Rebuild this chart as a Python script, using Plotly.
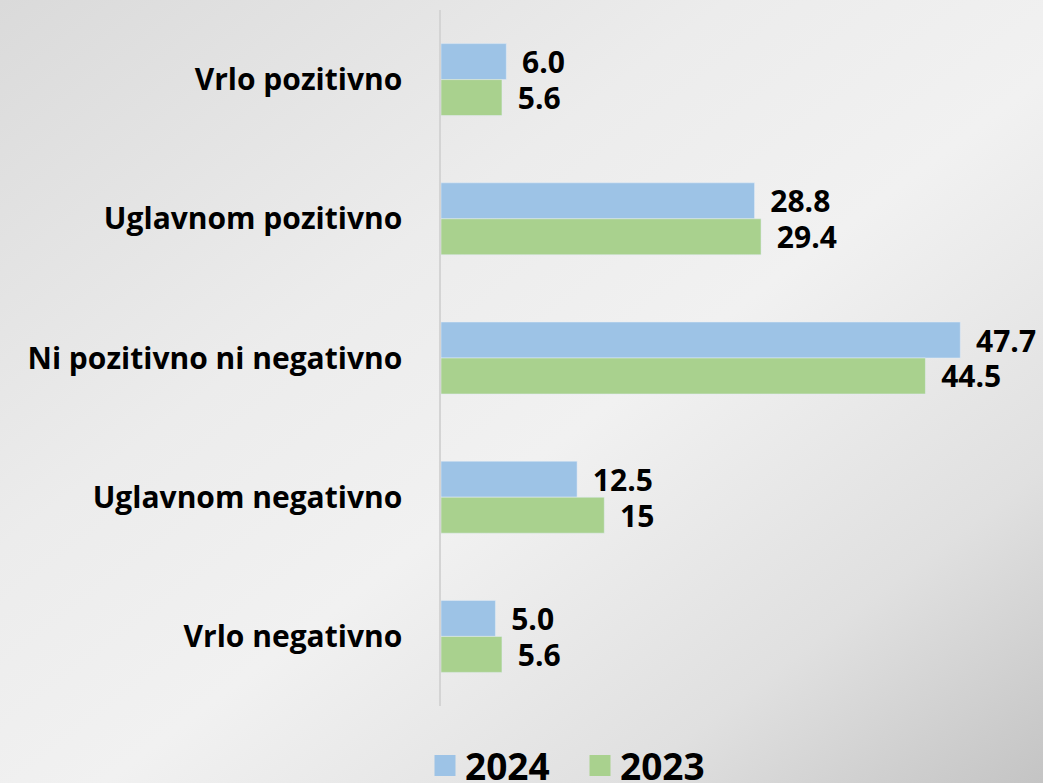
import base64
import plotly.graph_objects as go

categories = ["Vrlo pozitivno", "Uglavnom pozitivno", "Ni pozitivno ni negativno",
              "Uglavnom negativno", "Vrlo negativno"]
values_2024 = [6.0, 28.8, 47.7, 12.5, 5.0]
values_2023 = [5.6, 29.4, 44.5, 15, 5.6]
labels_2024 = ["6.0", "28.8", "47.7", "12.5", "5.0"]
labels_2023 = ["5.6", "29.4", "44.5", "15", "5.6"]

BLUE = "#9DC3E6"
GREEN = "#A9D18E"
FONT = "'Open Sans', sans-serif"

W, H = 1043, 783
L, R, T, B = 441, 0, 10, 77
pw, ph = W - L - R, H - T - B

# soft grey gradient background like the slide
svg = f"""<svg xmlns='http://www.w3.org/2000/svg' width='{W}' height='{H}' preserveAspectRatio='none'>
<defs><linearGradient id='g' x1='0' y1='0' x2='1' y2='1'>
<stop offset='0' stop-color='#dadada'/>
<stop offset='0.35' stop-color='#ececec'/>
<stop offset='0.55' stop-color='#f1f1f1'/>
<stop offset='0.8' stop-color='#e0e0e0'/>
<stop offset='1' stop-color='#c4c4c4'/>
</linearGradient></defs>
<rect width='{W}' height='{H}' fill='url(#g)'/></svg>"""
bg = "data:image/svg+xml;base64," + base64.b64encode(svg.encode()).decode()

label_font = dict(size=30, color="#000000", family=FONT, weight="bold")

fig = go.Figure()
fig.add_trace(go.Bar(
    y=categories, x=values_2024, name="2024", orientation="h",
    marker_color=BLUE, text=labels_2024, showlegend=False,
    texttemplate="\u00a0\u2009%{text}", textposition="outside", constraintext="none",
    textfont=label_font, cliponaxis=False,
))
fig.add_trace(go.Bar(
    y=categories, x=values_2023, name="2023", orientation="h",
    marker_color=GREEN, text=labels_2023, showlegend=False,
    texttemplate="\u00a0\u2009%{text}", textposition="outside", constraintext="none",
    textfont=label_font, cliponaxis=False,
))

# legend entries with bigger square swatches
for name, col in [("2024", BLUE), ("2023", GREEN)]:
    fig.add_trace(go.Scatter(
        x=[None], y=[None], name=name, mode="markers",
        marker=dict(symbol="square", size=16, color=col, line=dict(color=col, width=5)),
    ))

fig.update_layout(
    width=W, height=H,
    barmode="group", bargap=0.483, bargroupgap=0,
    margin=dict(l=L, r=R, t=T, b=B, autoexpand=False),
    paper_bgcolor="#e6e6e6", plot_bgcolor="rgba(0,0,0,0)",
    font=dict(family=FONT, color="#000000"),
    showlegend=True,
    legend=dict(orientation="h", x=-16 / pw, xanchor="left", y=-29 / ph, yanchor="top",
                font=dict(size=37, family=FONT, weight="bold"),
                itemwidth=30, entrywidth=110, tracegroupgap=0,
                bgcolor="rgba(0,0,0,0)", traceorder="normal"),
    images=[dict(source=bg, xref="paper", yref="paper",
                 x=-L / pw, y=1 + T / ph, sizex=W / pw, sizey=H / ph,
                 xanchor="left", yanchor="top", layer="below", sizing="stretch")],
)
fig.update_xaxes(range=[0, 55.3], visible=False, fixedrange=True)
fig.update_yaxes(autorange="reversed", showline=True, linecolor="#d4d4d4", linewidth=1.5,
                 ticks="", ticklabelstandoff=31, showgrid=False,
                 tickfont=dict(size=30, family=FONT, weight="bold", color="#000000"))

fig.write_html("out.html", config={"displayModeBar": False},
               post_script="document.body.style.margin='0';document.body.style.overflow='hidden';")
